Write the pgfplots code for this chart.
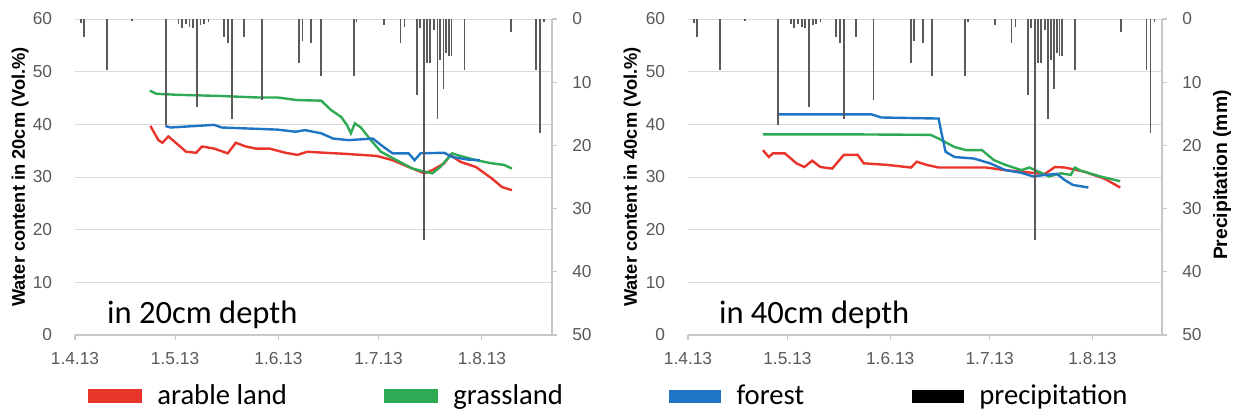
\documentclass[border=0pt]{standalone}
\usepackage{fontspec}
\setmainfont{Liberation Sans}
\newfontfamily\calibri{Carlito}
\usepackage{pgfplots}
\usepackage{pgfplotstable}
\pgfplotsset{compat=1.18}

\definecolor{cRed}{HTML}{E8342B}
\definecolor{cGreen}{HTML}{2EAA55}
\definecolor{cBlue}{HTML}{1F74C4}
\definecolor{cBar}{HTML}{5A5A5A}
\definecolor{cTick}{HTML}{595959}

% precipitation (mm), day 0 = 1.4.13
\pgfplotstableread{
day mm
1.8 0.6
2.7 2.8
9.7 8.1
17.1 0.3
27.2 16.8
31.0 0.8
32.0 1.5
33.2 0.8
34.3 1.2
35.3 1.5
36.5 14.0
37.6 1.0
38.6 0.8
40.0 0.5
44.6 2.8
45.8 3.8
47.1 15.8
50.6 2.8
56.0 12.8
67.2 7.0
68.2 3.5
70.8 3.8
73.7 9.0
83.6 9.0
84.4 0.4
92.6 0.9
97.6 3.8
98.8 1.2
102.5 12.0
103.4 1.5
104.7 35.0
105.6 7.0
106.4 6.9
107.7 1.8
108.7 15.9
109.5 6.5
110.5 11.0
111.3 5.4
112.1 5.8
112.9 5.8
116.8 8.1
130.7 2.0
138.3 8.1
139.5 18.0
140.7 0.5
}\precip

% 20 cm
\pgfplotstableread{
day wc
22.6 39.7
25.0 37.0
26.2 36.5
28.0 37.7
30.4 36.4
33.3 34.8
36.3 34.6
38.1 35.8
41.7 35.4
45.8 34.5
48.2 36.5
51.2 35.8
54.2 35.4
58.3 35.4
63.1 34.6
66.7 34.2
69.6 34.8
75.0 34.6
81.0 34.4
90.5 34.0
95.2 33.2
100.0 31.9
104.8 30.7
107.1 31.3
110.7 32.6
112.5 34.2
115.5 32.9
120.2 31.9
125.0 29.7
128.0 28.1
131.0 27.5
}\arableA
\pgfplotstableread{
day wc
22.4 46.4
24.4 45.8
31.0 45.6
42.9 45.4
54.8 45.1
60.7 45.1
66.7 44.6
73.8 44.5
76.8 42.7
79.8 41.4
81.5 39.9
82.7 38.3
83.9 40.2
85.7 39.4
88.7 37.0
91.7 34.8
96.4 33.2
101.2 31.6
103.6 31.2
107.1 30.7
109.5 31.9
113.1 34.5
115.5 34.0
120.2 33.2
125.0 32.6
128.6 32.3
131.0 31.6
}\grassA
\pgfplotstableread{
day wc
27.1 39.7
28.6 39.4
41.7 39.9
44.0 39.4
60.7 39.0
66.1 38.6
69.0 38.9
73.8 38.3
77.4 37.3
82.1 37.0
89.3 37.3
92.3 35.8
95.2 34.5
100.0 34.5
101.8 33.2
103.6 34.5
110.7 34.6
113.1 33.8
117.9 33.3
121.4 33.2
}\forestA

% 40 cm
\pgfplotstableread{
day wc
22.6 35.1
24.4 33.8
25.6 34.5
29.2 34.5
32.7 32.6
35.1 31.9
37.5 33.1
39.9 31.9
43.5 31.6
47.0 34.2
51.2 34.2
53.0 32.6
60.1 32.3
67.3 31.8
69.0 32.9
72.0 32.3
75.6 31.8
89.9 31.8
95.8 31.3
105.4 30.7
107.7 30.6
110.7 31.9
113.7 31.8
119.6 31.0
125.6 29.7
130.4 28.0
}\arableB
\pgfplotstableread{
day wc
22.6 38.1
48.2 38.1
73.2 38.0
75.6 37.3
80.4 35.7
83.9 35.1
88.7 35.1
92.3 33.2
95.8 32.3
100.6 31.3
103.0 31.8
106.5 30.8
108.9 30.1
112.5 30.7
115.5 30.4
116.7 31.8
118.5 31.2
124.4 30.1
130.4 29.2
}\grassB
\pgfplotstableread{
day wc
27.1 41.9
55.4 41.9
58.3 41.3
75.6 41.1
76.5 38.3
77.7 34.8
80.4 33.8
86.3 33.5
91.1 32.6
95.8 31.3
100.6 30.8
104.2 30.1
107.7 30.4
111.3 30.6
113.7 29.4
116.1 28.5
120.8 28.0
}\forestB

\pgfplotsset{
  panel/.style={anchor=south west, scale only axis, height=237pt,
    xmin=0, xmax=143, ymin=0, ymax=60, ytick={0,10,...,60},
    xtick={0,30,61,91,122},
    xticklabels={1.4.13,1.5.13,1.6.13,1.7.13,1.8.13},
    ymajorgrids, grid style={draw=black!14, line width=0.7pt},
    axis x line*=bottom, axis y line*=left,
    x axis line style={draw=black!22, line width=0.8pt},
    y axis line style={draw=none},
    ytick style={draw=none}, xtick style={draw=black!22, line width=0.8pt},
    tick align=outside, major tick length=4pt,
    /pgf/number format/assume math mode=true,
    tick label style={font=\fontsize{13}{15}\selectfont, text=cTick},
    yticklabel style={inner sep=0pt, xshift=-13pt},
    xticklabel style={inner sep=0pt, yshift=-9pt},
    legend image code/.code={\fill (0pt,-4.5pt) rectangle (38.25pt,4.5pt);},
    every axis plot/.append style={line width=1.8pt, no marks},
  },
  rain/.style={anchor=south west, scale only axis, height=237pt,
    xmin=0, xmax=143, ymin=0, ymax=50, y dir=reverse, ytick={0,10,...,50},
    axis x line=none, axis y line*=right,
    y axis line style={draw=black!22, line width=0.8pt},
    ytick style={draw=black!22, line width=0.8pt},
    tick align=outside, major tick length=4pt,
    /pgf/number format/assume math mode=true,
    tick label style={font=\fontsize{13}{15}\selectfont, text=cTick},
    yticklabel style={inner sep=0pt, xshift=11pt},
    legend image code/.code={\fill (0pt,-4.5pt) rectangle (38.25pt,4.5pt);},
  },
}

\begin{document}
\begin{tikzpicture}
\path[use as bounding box] (0,0) rectangle (924.75pt,-309pt);

% ---- left panel: 20 cm
\begin{axis}[panel, at={(56.25pt,-251.25pt)}, width=357.75pt,
  ylabel={Water content in 20cm (Vol.\%)},
  every axis y label/.style={at={(axis description cs:-0.115,0.5)}, rotate=90,
    anchor=center, font=\bfseries\fontsize{13.7}{15}\selectfont},
  legend columns=2,
  legend style={at={(axis description cs:0.0273,-0.193)}, anchor=west,
    draw=none, fill=none, inner sep=0pt,
    font=\calibri\fontsize{21.5}{24}\selectfont,
    /tikz/every odd column/.append style={column sep=9.75pt},
    /tikz/every even column/.append style={column sep=71pt}},
]
\addplot[color=cRed] table {\arableA};
\addlegendentry{arable land}
\addplot[color=cGreen] table {\grassA};
\addlegendentry{grassland}
\addplot[color=cBlue, forget plot] table {\forestA};
\node[anchor=base west, font=\calibri\fontsize{24.4}{28}\selectfont, inner sep=0pt]
  at (axis description cs:0.067,0.038) {in 20cm depth};
\end{axis}
\begin{axis}[rain, at={(56.25pt,-251.25pt)}, width=357.75pt]
\addplot[ycomb, color=cBar, line width=1.3pt, no marks] table {\precip};
\end{axis}

% ---- right panel: 40 cm
\begin{axis}[panel, at={(516pt,-251.25pt)}, width=355.5pt,
  ylabel={Water content in 40cm (Vol.\%)},
  every axis y label/.style={at={(axis description cs:-0.118,0.5)}, rotate=90,
    anchor=center, font=\bfseries\fontsize{13.7}{15}\selectfont},
]
\addplot[color=cRed] table {\arableB};
\addplot[color=cGreen] table {\grassB};
\addplot[color=cBlue] table {\forestB};
\node[anchor=base west, font=\calibri\fontsize{24.4}{28}\selectfont, inner sep=0pt]
  at (axis description cs:0.065,0.038) {in 40cm depth};
\end{axis}
\begin{axis}[rain, at={(516pt,-251.25pt)}, width=355.5pt,
  ylabel={Precipitation (mm)},
  every axis y label/.style={at={(axis description cs:1.127,0.506)}, rotate=90,
    anchor=center, font=\bfseries\fontsize{14.5}{16}\selectfont},
  legend columns=2,
  legend style={at={(axis description cs:-0.040,-0.193)}, anchor=west,
    draw=none, fill=none, inner sep=0pt,
    font=\calibri\fontsize{21.5}{24}\selectfont,
    /tikz/every odd column/.append style={column sep=9.75pt},
    /tikz/every even column/.append style={column sep=79pt}},
]
\addlegendimage{color=cBlue}
\addlegendentry{forest}
\addplot[ycomb, color=cBar, line width=1.3pt, no marks, forget plot] table {\precip};
\addlegendimage{color=black}
\addlegendentry{precipitation}
\end{axis}
\end{tikzpicture}
\end{document}
